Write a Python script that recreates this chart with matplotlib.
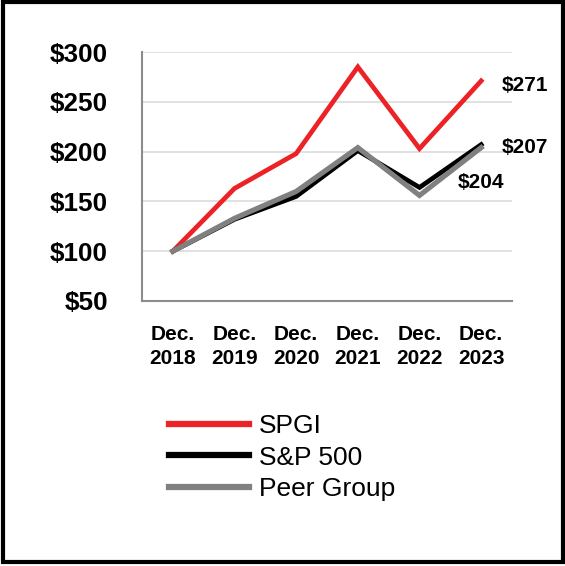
import matplotlib.pyplot as plt
from matplotlib.patches import Rectangle

plt.rcParams['font.family'] = ['Liberation Sans', 'DejaVu Sans']

# data
years = ['Dec.\n2018', 'Dec.\n2019', 'Dec.\n2020', 'Dec.\n2021', 'Dec.\n2022', 'Dec.\n2023']
spgi = [100, 163, 198, 285, 203, 271]
sp500 = [100, 132, 155, 201, 164, 207]
peer = [100, 133, 160, 204, 156, 204]
yticks = [50, 100, 150, 200, 250, 300]

fig = plt.figure(figsize=(5.65, 5.66), dpi=100)
ax = fig.add_axes([142 / 565, 265 / 566, 370 / 565, 249 / 566])

x = range(len(years))
ax.plot(x, spgi, color='#ec2227', lw=3.4, label='SPGI', solid_joinstyle='miter')
ax.plot(x, sp500, color='black', lw=3.4, label='S&P 500', solid_joinstyle='miter')
ax.plot(x, peer, color='#808080', lw=3.7, label='Peer Group', solid_joinstyle='miter')

ax.set_xlim(-0.5, 5.5)
ax.set_ylim(50, 300)
ax.set_yticks(yticks)
ax.set_yticklabels(['$%d' % v for v in yticks], fontsize=18.8, fontweight='bold')
ax.set_xticks(list(x))
ax.set_xticklabels(years, fontsize=15, fontweight='bold', linespacing=1.3)
ax.tick_params(axis='y', length=0, pad=24.5)
ax.tick_params(axis='x', length=0, pad=17.5)

ax.grid(axis='y', color='#dcdcdc', lw=1.2)
ax.set_axisbelow(True)
for s in ['top', 'right']:
    ax.spines[s].set_visible(False)
for s in ['left', 'bottom']:
    ax.spines[s].set_color('#8c8c8c')
    ax.spines[s].set_linewidth(1.5)

# end labels
ax.annotate('$%d' % spgi[-1], (5, spgi[-1]), xytext=(14.5, -3), textcoords='offset points',
            va='center', ha='left', fontsize=15, fontweight='bold')
ax.annotate('$%d' % sp500[-1], (5, sp500[-1]), xytext=(14.5, -2), textcoords='offset points',
            va='center', ha='left', fontsize=15, fontweight='bold')
ax.annotate('$%d' % peer[-1], (5, peer[-1]), xytext=(-17, -25), textcoords='offset points',
            va='center', ha='left', fontsize=15, fontweight='bold')

leg = fig.legend(loc='upper left', bbox_to_anchor=(169 / 565, 1 - 414 / 566), frameon=False,
                 fontsize=19, handlelength=3.05, handletextpad=0.35, labelspacing=0.29,
                 borderaxespad=0, borderpad=0)
for line in leg.get_lines():
    line.set_linewidth(4.5)

# outer frame
fig.patches.append(Rectangle((3 / 565, 4 / 566), 560 / 565, 560 / 566, transform=fig.transFigure,
                             fill=False, edgecolor='black', lw=3))

fig.savefig('out.png', dpi=100)
